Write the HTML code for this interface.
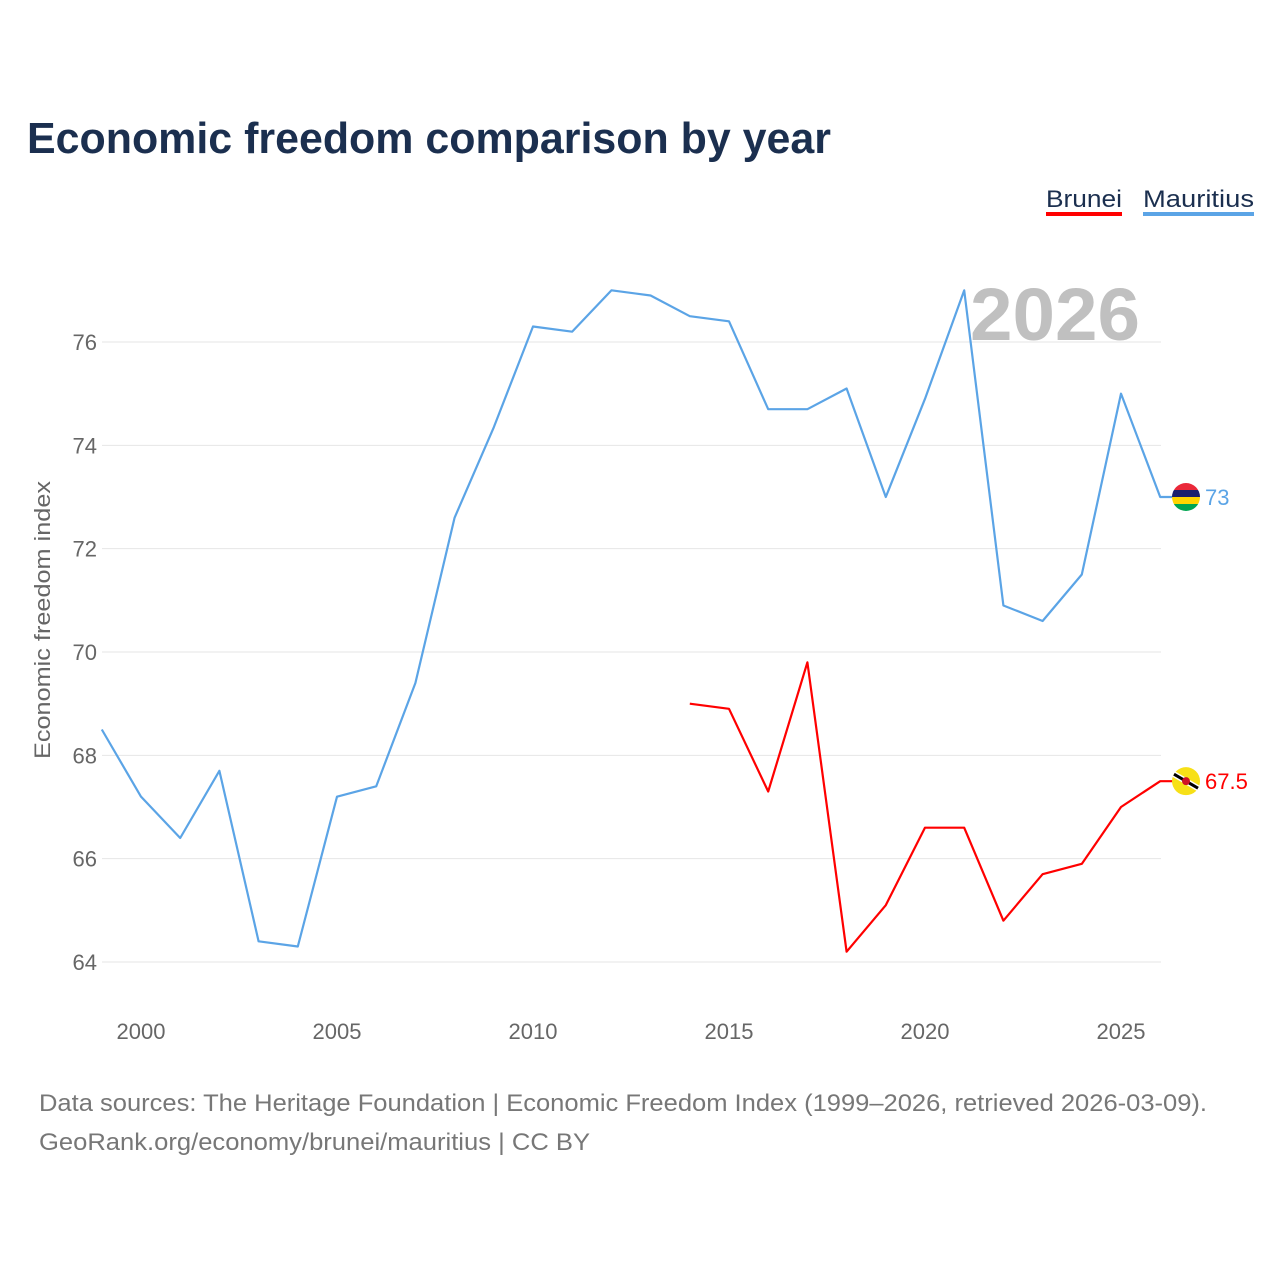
<!DOCTYPE html>
<html><head><meta charset="utf-8">
<style>
body{margin:0;background:#fff;font-family:"Liberation Sans",sans-serif;}
svg text{font-family:"Liberation Sans",sans-serif;}
</style></head>
<body>
<svg id="chart" width="1280" height="1280" viewBox="0 0 1280 1280" xmlns="http://www.w3.org/2000/svg">
<rect width="1280" height="1280" fill="#fff"/>
<text x="27" y="153" font-size="44" font-weight="bold" fill="#1b2f4f" textLength="804" lengthAdjust="spacingAndGlyphs">Economic freedom comparison by year</text>
<g>
 <text x="1046" y="207" font-size="24" fill="#1b2f4f" textLength="76" lengthAdjust="spacingAndGlyphs">Brunei</text>
 <rect x="1046" y="212" width="76" height="4" fill="#ff0000"/>
 <text x="1143" y="207" font-size="24" fill="#1b2f4f" textLength="111" lengthAdjust="spacingAndGlyphs">Mauritius</text>
 <rect x="1143" y="212" width="111" height="4" fill="#5ba4e6"/>
</g>
<text x="1140" y="340" text-anchor="end" font-size="74" font-weight="bold" fill="#c0c0c0" textLength="170" lengthAdjust="spacingAndGlyphs">2026</text>
<g id="grid"></g><g id="axes"></g><g id="lines"></g>
<text transform="translate(50,620) rotate(-90)" text-anchor="middle" font-size="22" fill="#666" textLength="278" lengthAdjust="spacingAndGlyphs">Economic freedom index</text>
<text x="39" y="1111" font-size="24" fill="#777" textLength="1168" lengthAdjust="spacingAndGlyphs">Data sources: The Heritage Foundation | Economic Freedom Index (1999–2026, retrieved 2026-03-09).</text>
<text x="39" y="1150" font-size="24" fill="#777" textLength="551" lengthAdjust="spacingAndGlyphs">GeoRank.org/economy/brunei/mauritius | CC BY</text>
</svg>
<script>
const mauritiusYears=[1999,2000,2001,2002,2003,2004,2005,2006,2007,2008,2009,2010,2011,2012,2013,2014,2015,2016,2017,2018,2019,2020,2021,2022,2023,2024,2025,2026];
const mauritiusValues=[68.5,67.2,66.4,67.7,64.4,64.3,67.2,67.4,69.4,72.6,74.35,76.3,76.2,77.0,76.9,76.5,76.4,74.7,74.7,75.1,73.0,74.9,77.0,70.9,70.6,71.5,75.0,73.0];
const bruneiYears=[2014,2015,2016,2017,2018,2019,2020,2021,2022,2023,2024,2025,2026];
const bruneiValues=[69.0,68.9,67.3,69.8,64.2,65.1,66.6,66.6,64.8,65.7,65.9,67.0,67.5];
const yTicks=[64,66,68,70,72,74,76];
const xTicks=[2000,2005,2010,2015,2020,2025];
const NS="http://www.w3.org/2000/svg";
const x=v=>141+(v-2000)*39.2;
const y=v=>342+(76-v)*51.667;
function mk(t,a,p){const e=document.createElementNS(NS,t);for(const k in a)e.setAttribute(k,a[k]);p.appendChild(e);return e;}
const grid=document.getElementById('grid'),axes=document.getElementById('axes'),lines=document.getElementById('lines');
yTicks.forEach(v=>{
 const l=mk('line',{x1:102,x2:1161,y1:y(v),y2:y(v),stroke:'#e6e6e6','stroke-width':1},grid);
 
 
 const t=mk('text',{x:97,y:y(v)+8,'text-anchor':'end','font-size':22,fill:'#666'},axes);
 t.textContent=v;
 
 
});
xTicks.forEach(v=>{
 const t=mk('text',{x:x(v),y:1039,'text-anchor':'middle','font-size':22,fill:'#666'},axes);
 t.textContent=v;
 
 
});
function series(years,vals,color,name,label){
 const last=vals[vals.length-1];
 let d=years.map((yr,i)=>(i?'L':'M')+x(yr)+','+y(vals[i])).join(' ')+' L1185,'+y(last);
 const p=mk('path',{d:d,fill:'none',stroke:color,'stroke-width':2.2,'stroke-linejoin':'round'},lines);
 
 
 const t=mk('text',{x:1205,y:y(last)+8,'font-size':22,fill:color},lines);
 t.textContent=label;
 
 
 return y(last);
}
const my=series(mauritiusYears,mauritiusValues,'#5ba4e6','mauritius',String(mauritiusValues[mauritiusValues.length-1]));
const by=series(bruneiYears,bruneiValues,'#ff0000','brunei',String(bruneiValues[bruneiValues.length-1]));
const mf=mk('g',{},lines);


const cp=mk('clipPath',{id:'cm'},mf);
mk('circle',{cx:1186,cy:my,r:14},cp);
['#ea2839','#1a206d','#ffd500','#00a551'].forEach((c,i)=>mk('rect',{x:1172,y:my-14+i*7,width:28,height:7,fill:c,'clip-path':'url(#cm)'},mf));
const bf=mk('g',{},lines);


mk('circle',{cx:1186,cy:by,r:14,fill:'#f7e017'},bf);
mk('line',{x1:1174,y1:by-7,x2:1198,y2:by+7,stroke:'#fff','stroke-width':6},bf);
mk('line',{x1:1174,y1:by-7,x2:1198,y2:by+7,stroke:'#000','stroke-width':3},bf);
mk('circle',{cx:1186,cy:by,r:4,fill:'#cf1126'},bf);
</script>
</body></html>
